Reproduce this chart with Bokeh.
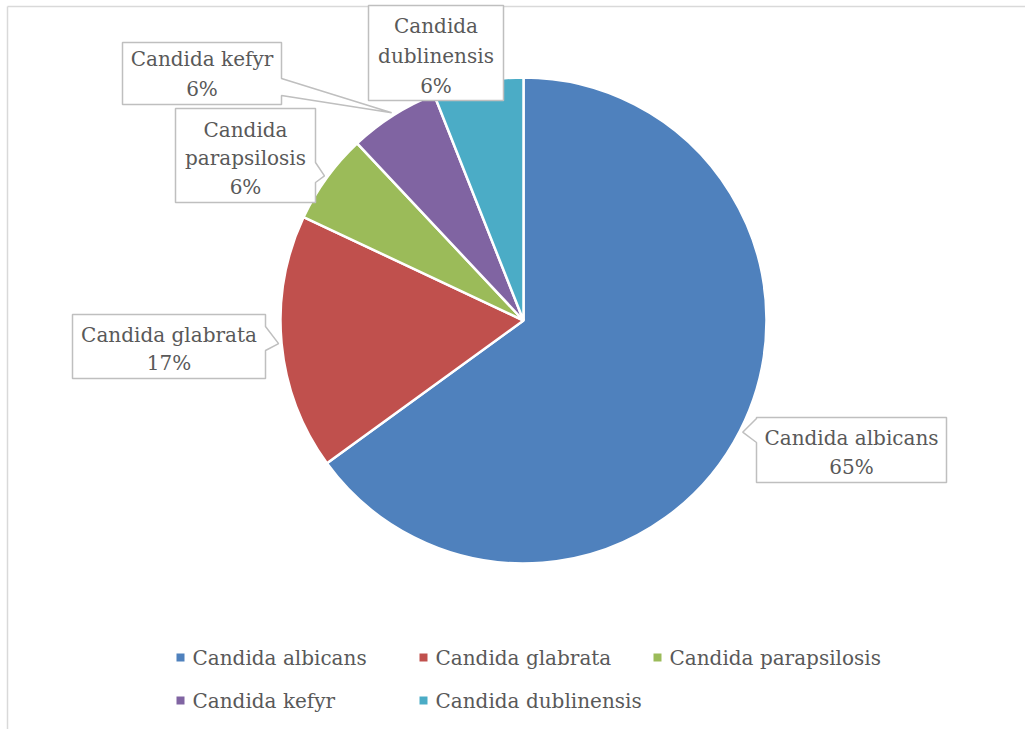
import numpy as np
from bokeh.plotting import figure
from bokeh.models import Range1d, ColumnDataSource
from bokeh.core.properties import value
from bokeh.embed import file_html
from bokeh.resources import INLINE

# ---------------- data ----------------
categories = ["Candida albicans", "Candida glabrata", "Candida parapsilosis",
              "Candida kefyr", "Candida dublinensis"]
percent = [65, 17, 6, 6, 6]
colors = ["#4F81BD", "#C0504D", "#9BBB59", "#8064A2", "#4BACC6"]
label_lines = [["Candida albicans"], ["Candida glabrata"], ["Candida", "parapsilosis"],
               ["Candida kefyr"], ["Candida", "dublinensis"]]

# ---------------- layout (pixel space, y down) ----------------
W, H = 1025, 729
CX, CY, R = 523, 320, 243
FONT = "DejaVu Serif"
FS = "20px"
TXT = "#595959"

def Y(py):
    return H - py

# callout boxes: left, top, right, bottom, pointer side, base1, base2, first line y, line step
boxes = [
    (756, 417, 946, 482, "left", 418, 442, 437, 29),
    (72, 314, 265, 378, "right", 326, 350, 334, 28),
    (175, 108, 315, 202, "right", 162, 182, 129, 28.5),
    (122, 42, 281, 104, "right", 78, 95, 58, 30),
    (368, 5, 503, 100, None, 0, 0, 25, 30),
]

legend_pos = [(180, 657), (423, 657), (657, 657), (180, 700), (423, 700)]

p = figure(width=W, height=H, x_range=Range1d(0, W), y_range=Range1d(0, H),
           output_backend="svg", toolbar_location=None, min_border=0)
p.axis.visible = False
p.grid.visible = False
p.outline_line_color = None
p.background_fill_color = "white"
p.border_fill_color = "white"

# chart border (cropped, only top and left visible)
p.line(x=[7, W + 5], y=[Y(6), Y(6)], line_color="#D9D9D9", line_width=1.5)
p.line(x=[7, 7], y=[Y(6), Y(H + 5)], line_color="#D9D9D9", line_width=1.5)

# pie wedges
frac = np.array(percent, dtype=float) / sum(percent)
cum = np.concatenate([[0], np.cumsum(frac)])
start = np.pi / 2 - 2 * np.pi * cum[:-1]
end = np.pi / 2 - 2 * np.pi * cum[1:]
src = ColumnDataSource(dict(start=start, end=end, color=colors))
p.wedge(x=CX, y=Y(CY), radius=R, start_angle="start", end_angle="end",
        direction="clock", fill_color="color", line_color="white", line_width=2.5,
        source=src)

# callouts
mid = 2 * np.pi * (cum[:-1] + cum[1:]) / 2  # clockwise from top
xs, ys = [], []
for i, (l, t, r, b, side, b1, b2, ty, step) in enumerate(boxes):
    tipx = CX + (R + 3) * np.sin(mid[i])
    tipy = CY - (R + 3) * np.cos(mid[i])
    if side == "right":
        pts = [(l, t), (r, t), (r, b1), (tipx, tipy), (r, b2), (r, b), (l, b)]
    elif side == "left":
        pts = [(l, t), (r, t), (r, b), (l, b), (l, b2), (tipx, tipy), (l, b1)]
    else:
        pts = [(l, t), (r, t), (r, b), (l, b)]
    xs.append([q[0] for q in pts])
    ys.append([Y(q[1]) for q in pts])
p.patches(xs=xs, ys=ys, fill_color="white", line_color="#BFBFBF", line_width=1.5)

tx, tyy, tt = [], [], []
for i, (l, t, r, b, side, b1, b2, ty, step) in enumerate(boxes):
    lines = label_lines[i] + [f"{percent[i]}%"]
    for k, s in enumerate(lines):
        tx.append((l + r) / 2)
        tyy.append(Y(ty + k * step))
        tt.append(s)
p.text(x=tx, y=tyy, text=tt, text_align="center", text_baseline="middle",
       text_font=value(FONT), text_font_size=FS, text_color=TXT)

# legend
lx = [q[0] for q in legend_pos]
ly = [Y(q[1]) for q in legend_pos]
p.scatter(x=lx, y=ly, marker="square", size=8, fill_color=colors, line_color=None)
p.text(x=[v + 12 for v in lx], y=ly, text=categories, text_align="left",
       text_baseline="middle", text_font=value(FONT), text_font_size=FS,
       text_color=TXT)

open("out.html", "w").write(file_html(p, INLINE))
